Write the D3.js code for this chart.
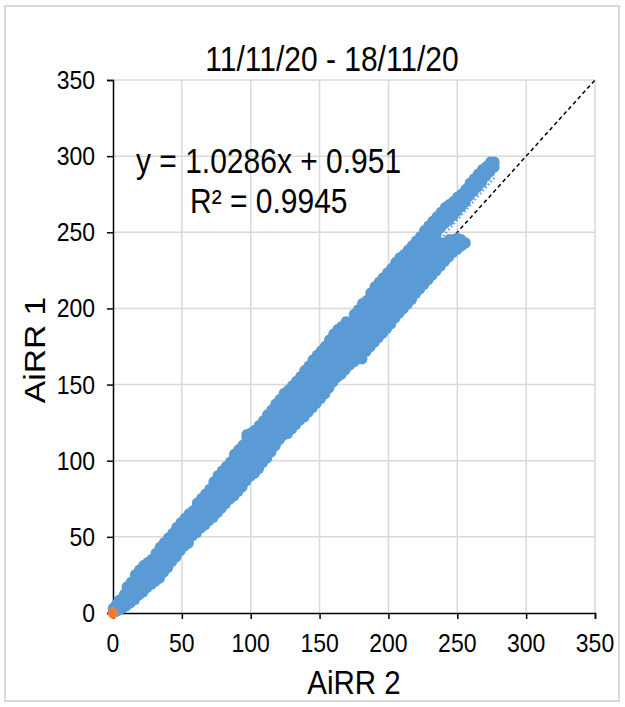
<!DOCTYPE html>
<html><head><meta charset="utf-8">
<script src="https://cdn.jsdelivr.net/npm/d3@7"></script>
<style>html,body{margin:0;padding:0;background:#fff}svg{display:block}text{font-family:"Liberation Sans",Arial,sans-serif;fill:#000}</style>
</head><body><div id="chart"></div>
<script>
// ---- data ----
const chartTitle = "11/11/20 - 18/11/20";
const xLabel = "AiRR 2";
const yLabel = "AiRR 1";
const tickValues = [0, 50, 100, 150, 200, 250, 300, 350];
const trendSlope = 1.0286;
const trendIntercept = 0.951;
const equationText = "y = 1.0286x + 0.951";
const r2Text = "R² = 0.9945";
const originPoint = [0, 0];
// AiRR 2 values (x) grouped in columns, with the AiRR 1 values (y) observed at each
const airr2Cols = [0,2,4,6,8,10,13,16,19,22,25,28,31,34,37,40,43,46,49,52,55,58,61,64,67,70,73,76,79,82,85,88,91,94,97,100,103,106,109,112,115,118,121,124,127,130,133,136,139,142,145,148,151,154,157,160,163,166,169,172,175,178,181,184,187,190,193,196,199,202,205,208,211,214,217,220,223,226,229,232,235,238,241,244,247,250,253,256,259,262,265,268,271,274,277];
const airr1Cols = [
 [1,3],[1,3,5],[2,5,8],[3,6,9],[4,8,12],[5,9,13,17],[7,11,15,20],[9,13,17,21,25],[12,16,20,24,28],[14,18,22,26,31],
 [17,21,25,29,33],[19,23,27,31,35],[21,25,29,33,37,39],[23,27,31,35,39,43],[27,31,35,39,43,46],[30,34,38,42,46,49],
 [34,38,42,46,50,52],[37,41,45,49,53,56],[41,45,49,53,57,59],[44,48,52,56,60,62],[46,50,54,58,62,65],[51,55,59,63,67],
 [53,57,61,65,69,72],[56,60,64,68,72,75],[58,62,66,70,74,78],[61,65,69,73,77,81],[63,67,71,75,79,83,86],
 [66,70,74,78,82,86,90],[69,73,77,81,85,89,93],[72,76,80,84,88,92,96],[75,79,83,87,91,95,99],
 [77,81,85,89,93,97,101,104],[80,84,88,92,96,100,104,107],[83,87,91,95,99,103,107,110],[87,91,95,99,103,107,111,115,117],
 [90,94,98,102,106,110,114,118],[92,96,100,104,108,112,116,120],[95,99,103,107,111,115,119,123],[99,103,107,111,115,119,123,126],
 [102,106,110,114,118,122,126,130],[106,110,114,118,122,126,130,133],[110,114,118,122,126,130,134,137],[114,118,122,126,130,134,138,140],
 [117,121,125,129,133,137,141,144],[118,122,126,130,134,138,142,146],[121,125,129,133,137,141,145,149],[124,128,132,136,140,144,148,152],
 [127,131,135,139,143,147,151,155],[129,133,137,141,145,149,153,157,159],[132,136,140,144,148,150,154,158,162],[135,139,143,147,151,155,159,163,166],
 [138,142,146,150,154,158,162,166,169],[141,145,149,153,157,161,165,169,172],[144,148,152,156,160,164,168,172,175],[148,152,156,160,164,168,172,176,179],
 [152,156,160,164,168,172,176,180,183],[155,159,163,167,171,175,179,183,186],[157,161,165,169,173,177,181,185,188],[160,164,168,172,176,180,184,188,191],
 [163,167,171,175,179,183,187,191],[165,169,173,177,181,185,189,193,196],[167,171,175,179,183,187,191,195,199],[167,171,175,179,183,187,191,195,199,203],
 [172,176,180,184,188,192,196,200,205],[175,179,183,187,191,195,199,203,207,210],[178,182,186,190,194,198,202,206,210,214],[181,185,189,193,197,201,205,209,213,217],
 [184,188,192,196,200,204,208,212,216,220],[187,191,195,199,203,207,211,215,219,223],[190,194,198,202,206,210,214,218,222,226],[194,198,202,206,210,214,218,222,226,230],
 [197,201,205,209,213,217,221,225,229,233],[200,204,208,212,216,220,224,228,232,235],[203,207,211,215,219,223,227,231,235,238],[206,210,214,218,222,226,230,234,238,241],
 [210,214,218,222,226,230,234,238,242,244],[213,217,221,225,229,233,237,241,245,247],[216,220,224,228,232,236,240,244,248,251],[219,223,227,231,235,239,243,247,251,254],
 [222,226,230,234,238,242,246,250,254,257],[225,229,233,237,241,245,249,253,257,260],
 [228,232,236,240,243,253,257,260,263],[231,235,239,243,256,259,263,266],[234,238,242,245,258,261,265,268],[237,241,245,261,264,267,270],
 [239,243,246,264,267,270,273],[241,245,267,270,273,275],[243,270,273,276,278],[274,277,280,282],[277,280,283,285],[280,283,286,288],
 [283,286,289,291],[287,290,293],[290,293,296],[293,296]
];

// ---- layout ----
const W = 625, H = 707;
const plot = {left: 113, right: 595, top: 80, bottom: 613};
const SY = 1.14; // vertical stretch of glyphs in the reference

const svg = d3.select("#chart").append("svg").attr("width", W).attr("height", H);
svg.append("rect").attr("x", 5).attr("y", 6).attr("width", 614).attr("height", 695)
  .attr("fill", "#fff").attr("stroke", "#d9d9d9").attr("stroke-width", 2);

const x = d3.scaleLinear().domain([0, 350]).range([plot.left, plot.right]);
const y = d3.scaleLinear().domain([0, 350]).range([plot.bottom, plot.top]);

// gridlines
const grid = svg.append("g");
grid.selectAll(".gv").data(tickValues.slice(1)).join("line")
  .attr("x1", d => x(d)).attr("x2", d => x(d)).attr("y1", plot.top).attr("y2", plot.bottom)
  .attr("stroke", "#d9d9d9").attr("stroke-width", 1.5);
grid.selectAll(".gh").data(tickValues.slice(1)).join("line")
  .attr("y1", d => y(d)).attr("y2", d => y(d)).attr("x1", plot.left).attr("x2", plot.right)
  .attr("stroke", "#d9d9d9").attr("stroke-width", 1.5);

// axes
const xAxis = svg.append("g").attr("transform", `translate(0,${plot.bottom})`)
  .call(d3.axisBottom(x).tickValues(tickValues).tickSize(6).tickFormat(""));
const yAxis = svg.append("g").attr("transform", `translate(${plot.left},0)`)
  .call(d3.axisLeft(y).tickValues(tickValues).tickSize(6).tickFormat(""));
[xAxis, yAxis].forEach(a => {
  a.select(".domain").attr("stroke", "#000").attr("stroke-width", 1.5);
  a.selectAll(".tick line").attr("stroke", "#000").attr("stroke-width", 1.5);
});

// 1:1 dashed line
svg.append("line").attr("x1", x(0)).attr("y1", y(0)).attr("x2", x(350)).attr("y2", y(350))
  .attr("stroke", "#000").attr("stroke-width", 1.5).attr("stroke-dasharray", "4,3");

// points
const pts = [];
airr2Cols.forEach((xv, i) => airr1Cols[i].forEach(yv => pts.push([xv, yv])));
svg.append("g").selectAll("ellipse").data(pts).join("ellipse")
  .attr("cx", d => x(d[0])).attr("cy", d => y(d[1])).attr("rx", 5.2).attr("ry", 5.8)
  .attr("fill", "#5b9bd5");

// trendline (dotted)
const xMax = d3.max(airr2Cols);
svg.append("line").attr("x1", x(0)).attr("y1", y(trendIntercept))
  .attr("x2", x(xMax)).attr("y2", y(trendSlope * xMax + trendIntercept))
  .attr("stroke", "#5b9bd5").attr("stroke-width", 2.2).attr("stroke-dasharray", "1.5,2.5");

// origin point
svg.append("ellipse").attr("cx", x(originPoint[0])).attr("cy", y(originPoint[1]))
  .attr("rx", 5.2).attr("ry", 5.8).attr("fill", "#ed7d31");

function txt(tx, ty, s, size, anchor, rot) {
  const t = svg.append("text")
    .attr("transform", rot ? `translate(${tx},${ty}) rotate(-90) scale(${SY},1)` : `translate(${tx},${ty}) scale(1,${SY})`)
    .attr("text-anchor", anchor).style("font-size", size + "px").text(s);
  return t;
}
// tick labels
tickValues.forEach(v => txt(x(v), 652, String(v), 23, "middle"));
tickValues.forEach(v => txt(95, y(v) + 9, String(v), 23, "end"));

// titles
txt(332, 71, chartTitle, 30, "middle");
txt(354, 694, xLabel, 29.5, "middle");
txt(45, 350, yLabel, 29.5, "middle", true);

// equation
txt(136, 173, equationText, 30, "start");
txt(190, 213, r2Text, 30, "start");
</script></body></html>
